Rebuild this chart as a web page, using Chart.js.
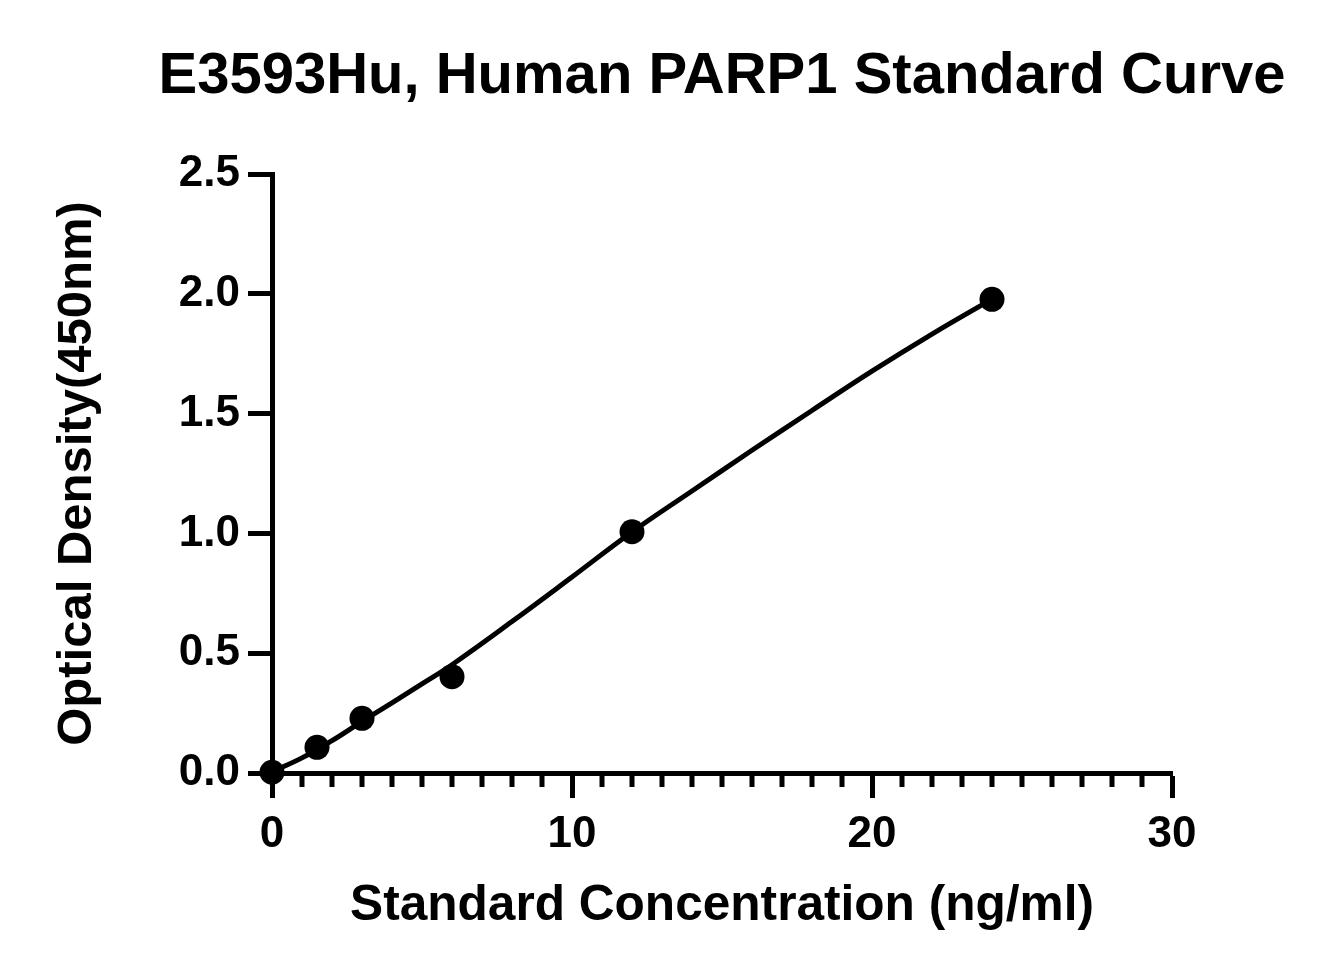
<!DOCTYPE html>
<html>
<head>
<meta charset="utf-8">
<script src="https://cdn.jsdelivr.net/npm/chart.js@4.4.1/dist/chart.umd.min.js"></script>
<style>
  html, body { margin: 0; padding: 0; background: #ffffff; }
  #wrap { width: 1344px; height: 975px; position: relative; }
</style>
</head>
<body>
<div id="wrap"><canvas id="c"></canvas></div>
<script>
// ---- data ----
const chartTitle = 'E3593Hu, Human PARP1 Standard Curve';
const xAxisTitle = 'Standard Concentration (ng/ml)';
const yAxisTitle = 'Optical Density(450nm)';

// standard points
const stdConc = [0, 1.5, 3, 6, 12, 24];
const stdOD   = [0.003, 0.107, 0.228, 0.402, 1.007, 1.977];

// fitted curve
const curveConc = [0, 1, 2, 3, 4, 5, 6, 8, 10, 12, 14, 16, 18, 20, 22, 24];
const curveOD   = [0.005, 0.063, 0.135, 0.215, 0.293, 0.372, 0.452, 0.632, 0.818, 1.006, 1.177, 1.347, 1.513, 1.677, 1.832, 1.978];

// axes
const xMin = 0, xMax = 30, xMinorStep = 1, xMajorStep = 10;
const yMin = 0, yMax = 2.5, yStep = 0.5;

const FONT = "'Liberation Sans', Arial, Helvetica, sans-serif";

const minorTicks = {
  id: 'minorTicks',
  afterLayout(chart) {
    // centre the title over the plotting area like the reference
    const tb = chart.titleBlock;
    if (tb) {
      const ca = chart.chartArea;
      const c = (ca.left + ca.right) / 2;
      const half = Math.min(c, chart.width - c);
      tb.left = c - half;
      tb.right = c + half;
    }
  },
  afterDraw(chart) {
    const xs = chart.scales.x;
    const ctx = chart.ctx;
    ctx.save();
    ctx.strokeStyle = '#000';
    ctx.lineWidth = 5;
    ctx.lineCap = 'butt';
    xs.ticks.forEach(t => {
      if (Math.round(t.value) % xMajorStep === 0) return;
      const px = xs.getPixelForValue(t.value);
      ctx.beginPath();
      ctx.moveTo(px, xs.top);
      ctx.lineTo(px, xs.top + 14);
      ctx.stroke();
    });
    ctx.restore();
  }
};

const pts = stdConc.map((x, i) => ({ x: x, y: stdOD[i] }));
const curve = curveConc.map((x, i) => ({ x: x, y: curveOD[i] }));

new Chart(document.getElementById('c'), {
  type: 'scatter',
  data: {
    datasets: [
      {
        label: 'Standard',
        data: pts,
        showLine: false,
        pointRadius: 12.5,
        pointHoverRadius: 12.5,
        pointBackgroundColor: '#000',
        pointBorderColor: '#000',
        pointBorderWidth: 0,
        clip: false,
        order: 0
      },
      {
        label: 'Fit',
        data: curve,
        showLine: true,
        borderColor: '#000',
        borderWidth: 5,
        pointRadius: 0,
        pointHoverRadius: 0,
        tension: 0.4,
        fill: false,
        clip: false,
        order: 1
      }
    ]
  },
  options: {
    responsive: true,
    maintainAspectRatio: false,
    animation: false,
    devicePixelRatio: 1,
    layout: { padding: { top: 0, right: 172, bottom: 0, left: 0 } },
    plugins: {
      legend: { display: false },
      tooltip: { enabled: false },
      title: {
        display: true,
        text: chartTitle,
        color: '#000',
        font: { family: FONT, size: 58, weight: 'bold', lineHeight: 1.2 },
        padding: { top: 42, bottom: 62.4 }
      }
    },
    scales: {
      x: {
        type: 'linear',
        min: xMin, max: xMax,
        afterFit(s) { s.height = 975 - 773; },
        border: { display: true, color: '#000', width: 5 },
        grid: {
          drawOnChartArea: false,
          drawTicks: true,
          tickLength: 25,
          tickWidth: 5,
          tickColor: (c) => (c.tick && Math.round(c.tick.value) % xMajorStep === 0) ? '#000' : 'rgba(0,0,0,0)'
        },
        ticks: {
          stepSize: xMinorStep,
          autoSkip: false,
          maxRotation: 0,
          minRotation: 0,
          padding: 10,
          color: '#000',
          font: { family: FONT, size: 44, weight: 'bold' },
          callback: (v) => (Math.round(v) % xMajorStep === 0) ? String(v) : ''
        },
        title: {
          display: true,
          text: xAxisTitle,
          color: '#000',
          font: { family: FONT, size: 49.6, weight: 'bold', lineHeight: 1.2 },
          padding: { top: 0, bottom: 39 }
        }
      },
      y: {
        type: 'linear',
        min: yMin, max: yMax,
        afterFit(s) { s.width = 272; },
        border: { display: true, color: '#000', width: 5 },
        grid: {
          drawOnChartArea: false,
          drawTicks: true,
          tickLength: 24,
          tickWidth: 5,
          tickColor: '#000'
        },
        ticks: {
          stepSize: yStep,
          padding: 8,
          color: '#000',
          font: { family: FONT, size: 44, weight: 'bold' },
          callback: (v) => Number(v).toFixed(1)
        },
        title: {
          display: true,
          text: yAxisTitle,
          color: '#000',
          font: { family: FONT, size: 49, weight: 'bold', lineHeight: 1.2 },
          padding: { top: 48, bottom: 0 }
        }
      }
    }
  },
  plugins: [minorTicks]
});
</script>
</body>
</html>
